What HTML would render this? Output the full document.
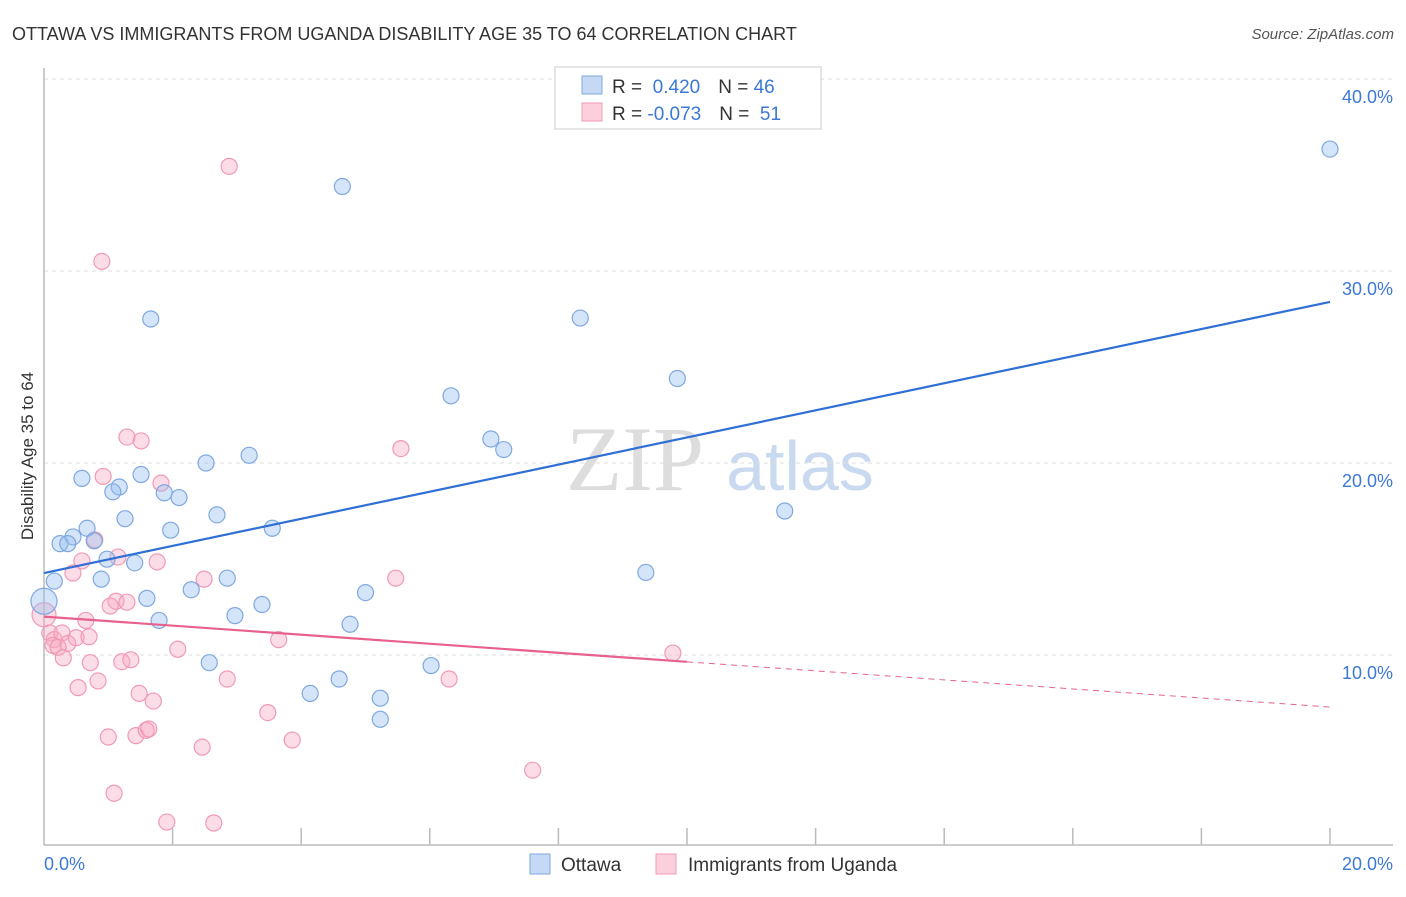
<!DOCTYPE html>
<html><head><meta charset="utf-8"><style>
body{margin:0;background:#fff;font-family:"Liberation Sans",sans-serif;}
</style></head><body>
<svg width="1406" height="892" xmlns="http://www.w3.org/2000/svg" font-family="Liberation Sans, sans-serif">
<text x="12" y="40" font-size="18" fill="#333">OTTAWA VS IMMIGRANTS FROM UGANDA DISABILITY AGE 35 TO 64 CORRELATION CHART</text>
<text x="1394" y="39" font-size="15" fill="#555" font-style="italic" text-anchor="end">Source: ZipAtlas.com</text>
<text x="635" y="490" font-size="92" fill="#ddd" font-family="Liberation Serif, serif" text-anchor="middle">ZIP</text>
<text x="800" y="490" font-size="70" fill="#c9d9ef" text-anchor="middle">atlas</text>
<g id="grid"></g>
<line x1="44" y1="68" x2="44" y2="845" stroke="#bbb" stroke-width="1.5"/>
<line x1="44" y1="845" x2="1393" y2="845" stroke="#bbb" stroke-width="1.5"/>
<text transform="translate(33,456) rotate(-90)" font-size="17" fill="#333" text-anchor="middle">Disability Age 35 to 64</text>
<text x="44" y="870" font-size="18" fill="#3b78d8">0.0%</text>
<text x="1393" y="870" font-size="18" fill="#3b78d8" text-anchor="end">20.0%</text>
<g id="pts"></g>
<g id="trend"></g>
<g>
<rect x="555" y="67" width="266" height="62" fill="#fff" stroke="#ccc"/>
<rect x="582" y="76" width="20" height="18" fill="#c5d9f5" stroke="#7fa8e0"/>
<rect x="582" y="103" width="20" height="18" fill="#fbd0dc" stroke="#f09ab4"/>
<text x="612" y="93" font-size="19" fill="#333">R = <tspan fill="#3b78d8">&#160;0.420</tspan><tspan dx="18" fill="#333">N = </tspan><tspan fill="#3b78d8">46</tspan></text>
<text x="612" y="120" font-size="19" fill="#333">R = <tspan fill="#3b78d8">-0.073</tspan><tspan dx="18" fill="#333">N = </tspan><tspan fill="#3b78d8">&#160;51</tspan></text>
</g>
<g>
<rect x="530" y="854" width="20" height="20" fill="#c5d9f5" stroke="#7fa8e0"/>
<text x="561" y="871" font-size="19" fill="#333">Ottawa</text>
<rect x="656" y="854" width="20" height="20" fill="#fbd0dc" stroke="#f09ab4"/>
<text x="688" y="871" font-size="19" fill="#333">Immigrants from Uganda</text>
</g>
</svg>
<script>
const blueX=[20,4.64,1.66,8.34,9.85,6.33,6.95,7.15,3.19,2.52,0.59,1.51,1.17,1.07,1.87,2.1,1.26,2.69,0.67,1.97,0.45,0.25,0.37,0.78,3.55,0.98,1.41,11.52,0.16,0.89,2.85,9.36,2.29,5.0,1.6,3.39,2.97,1.79,4.76,0,2.57,6.02,4.14,4.59,5.23,5.23];
const blueY=[36.35,34.4,27.5,27.55,24.4,23.5,21.25,20.7,20.4,20.0,19.2,19.4,18.75,18.5,18.45,18.2,17.1,17.3,16.6,16.5,16.15,15.8,15.8,15.95,16.6,14.99,14.8,17.5,13.85,13.95,14.0,14.3,13.4,13.25,12.95,12.63,12.05,11.8,11.6,12.8,9.6,9.45,8.0,8.75,7.75,6.65];
const pinkX=[2.88,0.9,1.29,1.51,5.55,0.92,1.82,0.79,1.15,0.59,1.76,0.45,5.47,2.49,1.12,1.29,1.03,0.65,0,0.09,0.16,0.28,0.37,0.5,0.7,0.14,0.22,2.08,3.65,0.72,0.3,1.21,1.35,9.78,6.3,2.85,0.84,0.53,1.48,1.7,3.48,1.0,1.43,1.59,1.63,2.46,3.86,7.6,1.09,1.91,2.64];
const pinkY=[35.45,30.5,21.35,21.15,20.75,19.3,18.95,16.0,15.1,14.9,14.85,14.27,14.0,13.95,12.8,12.75,12.55,11.8,12.1,11.15,10.8,11.15,10.6,10.9,10.95,10.5,10.4,10.3,10.8,9.6,9.85,9.65,9.75,10.1,8.75,8.75,8.65,8.3,8.0,7.6,7.0,5.73,5.8,6.08,6.15,5.2,5.57,4.0,2.8,1.3,1.25];
const yTicks=[10,20,30,40];
const yTickLabels=["10.0%","20.0%","30.0%","40.0%"];
const xTicks=[2,4,6,8,10,12,14,16,18,20];
const blueTrend=[14.27,28.39];
const pinkTrend=[12.0,7.29];
const pinkSolidEnd=10;
const X=v=>44+v/20*1286, Y=v=>847-v*19.2;
const NS="http://www.w3.org/2000/svg";
const mk=(t,a,p)=>{const e=document.createElementNS(NS,t);for(const k in a)e.setAttribute(k,a[k]);p.appendChild(e);return e;};
const g=document.getElementById('grid');
yTicks.forEach((v,i)=>{
 const l=mk('line',{x1:44,x2:1393,y1:Y(v),y2:Y(v),stroke:'#ddd','stroke-dasharray':'4,4'},g);
 
 
 const t=mk('text',{x:1393,y:Y(v)+24,'font-size':18,fill:'#3b78d8','text-anchor':'end'},g);
 t.textContent=yTickLabels[i];
 
 
});
xTicks.forEach(v=>{
 const l=mk('line',{x1:X(v),x2:X(v),y1:828,y2:845,stroke:'#bbb','stroke-width':1.5},g);
 
 
});
const p=document.getElementById('pts');
pinkX.forEach((x,i)=>{
 const c=mk('circle',{cx:X(x),cy:Y(pinkY[i]),r:i==18?12:8,fill:'rgba(247,170,195,0.4)',stroke:'#f09ab4','stroke-width':1.2},p);
 
 
});
blueX.forEach((x,i)=>{
 const c=mk('circle',{cx:X(x),cy:Y(blueY[i]),r:i==39?13:8,fill:'rgba(150,190,240,0.4)',stroke:'#7fa8e0','stroke-width':1.2},p);
 
 
});
const tr=document.getElementById('trend');
const b=mk('line',{x1:X(0),y1:Y(blueTrend[0]),x2:X(20),y2:Y(blueTrend[1]),stroke:'#2f6fd6','stroke-width':2.2},tr);


const pm=pinkTrend[0]+(pinkTrend[1]-pinkTrend[0])*pinkSolidEnd/20;
const ps=mk('line',{x1:X(0),y1:Y(pinkTrend[0]),x2:X(pinkSolidEnd),y2:Y(pm),stroke:'#e8618c','stroke-width':2.2},tr);


const pd=mk('line',{x1:X(pinkSolidEnd),y1:Y(pm),x2:X(20),y2:Y(pinkTrend[1]),stroke:'#e8618c','stroke-width':1,'stroke-dasharray':'6,5'},tr);


</script>
</body></html>
